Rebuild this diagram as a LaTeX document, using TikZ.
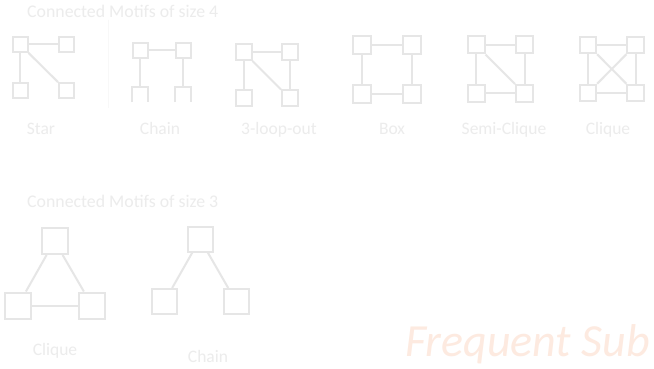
\documentclass[tikz,border=0pt]{standalone}
\usepackage{fontspec}
\setmainfont{Carlito}
\usepackage{tikz}
\usetikzlibrary{positioning}
\usepackage{xcolor}

\definecolor{motifgray}{RGB}{230,230,230}
\definecolor{labelgray}{RGB}{236,236,236}
\definecolor{rulegray}{RGB}{248,248,248}
\definecolor{suborange}{RGB}{253,234,224}

\tikzset{
  vbox/.style={draw=motifgray, line width=2pt, fill=white, inner sep=0pt, minimum size=#1},
  vbox/.default=16pt,
  edge/.style={draw=motifgray, line width=2pt},
  motiflabel/.style={text=labelgray, font=\fontsize{17.5}{20}\selectfont, anchor=base},
  heading/.style={text=labelgray, font=\fontsize{17.8}{20}\selectfont, anchor=base west, inner sep=0pt}
}

\begin{document}
\begin{tikzpicture}[x=1pt,y=-1pt]

\useasboundingbox (0,0) rectangle (654,369);
\fill[white] (0,0) rectangle (654,369);

\node[heading] (title4) at (27,17.5) {Connected Motifs of size 4};
\node[heading] (title3) at (27,207) {Connected Motifs of size 3};

% faint rule
\draw[rulegray, line width=1pt] (108,20) -- (108,108);

% star
\node[vbox=15pt] (star-tl) at (20,44.5) {};
\node[vbox=15pt] (star-tr) at (66.5,44.5) {};
\node[vbox=15pt] (star-bl) at (20,90.5) {};
\node[vbox=15pt] (star-br) at (66.5,90.5) {};
\draw[edge] (star-tl) -- (star-tr);
\draw[edge] (star-tl) -- (star-bl);
\draw[edge] (star-tl) -- (star-br);
\node[motiflabel] (star-lab) at (41,135) {Star};

% chain
\node[vbox=15pt] (chain-tl) at (140,50.5) {};
\node[vbox=15pt] (chain-tr) at (183,50.5) {};
\node[minimum size=15pt, inner sep=0pt] (chain-bl) at (140,94.5) {};
\node[minimum size=15pt, inner sep=0pt] (chain-br) at (183,94.5) {};
\draw[edge] (chain-bl.south west) -- (chain-bl.north west) -- (chain-bl.north east) -- (chain-bl.south east);
\draw[edge] (chain-br.south west) -- (chain-br.north west) -- (chain-br.north east) -- (chain-br.south east);
\draw[edge] (chain-tl) -- (chain-tr);
\draw[edge] (chain-tl) -- (chain-bl.north);
\draw[edge] (chain-tr) -- (chain-br.north);
\node[motiflabel] (chain-lab) at (160,135) {Chain};

% 3-loop-out
\node[vbox=16pt] (loop-tl) at (243.5,52) {};
\node[vbox=16pt] (loop-tr) at (290,52) {};
\node[vbox=16pt] (loop-bl) at (243.5,98.5) {};
\node[vbox=16pt] (loop-br) at (290,98.5) {};
\draw[edge] (loop-tl) -- (loop-tr);
\draw[edge] (loop-tl) -- (loop-bl);
\draw[edge] (loop-tr) -- (loop-br);
\draw[edge] (loop-tl) -- (loop-br);
\node[motiflabel] (loop-lab) at (279,135) {3-loop-out};

% box
\node[vbox=18pt] (box-tl) at (362,45.5) {};
\node[vbox=18pt] (box-tr) at (412,45.5) {};
\node[vbox=18pt] (box-bl) at (362,94.5) {};
\node[vbox=18pt] (box-br) at (412,94.5) {};
\draw[edge] (box-tl) -- (box-tr);
\draw[edge] (box-tr) -- (box-br);
\draw[edge] (box-br) -- (box-bl);
\draw[edge] (box-bl) -- (box-tl);
\node[motiflabel] (box-lab) at (392,135) {Box};

% semi-clique
\node[vbox=17pt] (semi-tl) at (476,45) {};
\node[vbox=17pt] (semi-tr) at (524.5,45) {};
\node[vbox=17pt] (semi-bl) at (476,93.5) {};
\node[vbox=17pt] (semi-br) at (524.5,93.5) {};
\draw[edge] (semi-tl) -- (semi-tr);
\draw[edge] (semi-tr) -- (semi-br);
\draw[edge] (semi-br) -- (semi-bl);
\draw[edge] (semi-bl) -- (semi-tl);
\draw[edge] (semi-tl) -- (semi-br);
\node[motiflabel] (semi-lab) at (504,135) {Semi-Clique};

% clique
\node[vbox=16.5pt] (cliq-tl) at (588,45) {};
\node[vbox=16.5pt] (cliq-tr) at (635.5,45) {};
\node[vbox=16.5pt] (cliq-bl) at (588,93) {};
\node[vbox=16.5pt] (cliq-br) at (635.5,93) {};
\draw[edge] (cliq-tl) -- (cliq-tr);
\draw[edge] (cliq-tr) -- (cliq-br);
\draw[edge] (cliq-br) -- (cliq-bl);
\draw[edge] (cliq-bl) -- (cliq-tl);
\draw[edge] (cliq-tl) -- (cliq-br);
\draw[edge] (cliq-tr) -- (cliq-bl);
\node[motiflabel] (cliq-lab) at (608,135) {Clique};

% size 3: clique
\node[vbox=26pt] (tri-t) at (54.5,241) {};
\node[vbox=26pt] (tri-l) at (18,305.5) {};
\node[vbox=26pt] (tri-r) at (92,305.5) {};
\draw[edge] (tri-t) -- (tri-l);
\draw[edge] (tri-t) -- (tri-r);
\draw[edge] (tri-l) -- (tri-r);
\node[motiflabel] (tri-lab) at (55,355) {Clique};

% size 3: chain
\node[vbox=25pt] (vee-t) at (200,239) {};
\node[vbox=25pt] (vee-l) at (164.5,301.5) {};
\node[vbox=25pt] (vee-r) at (236,301.5) {};
\draw[edge] (vee-t) -- (vee-l);
\draw[edge] (vee-t) -- (vee-r);
\node[motiflabel] (vee-lab) at (208,362) {Chain};

% corner heading
\node[text=suborange, font=\fontsize{46}{52}\selectfont\itshape, anchor=base east, inner sep=0pt] (freq) at (650,356) {Frequent Sub};

\end{tikzpicture}
\end{document}
